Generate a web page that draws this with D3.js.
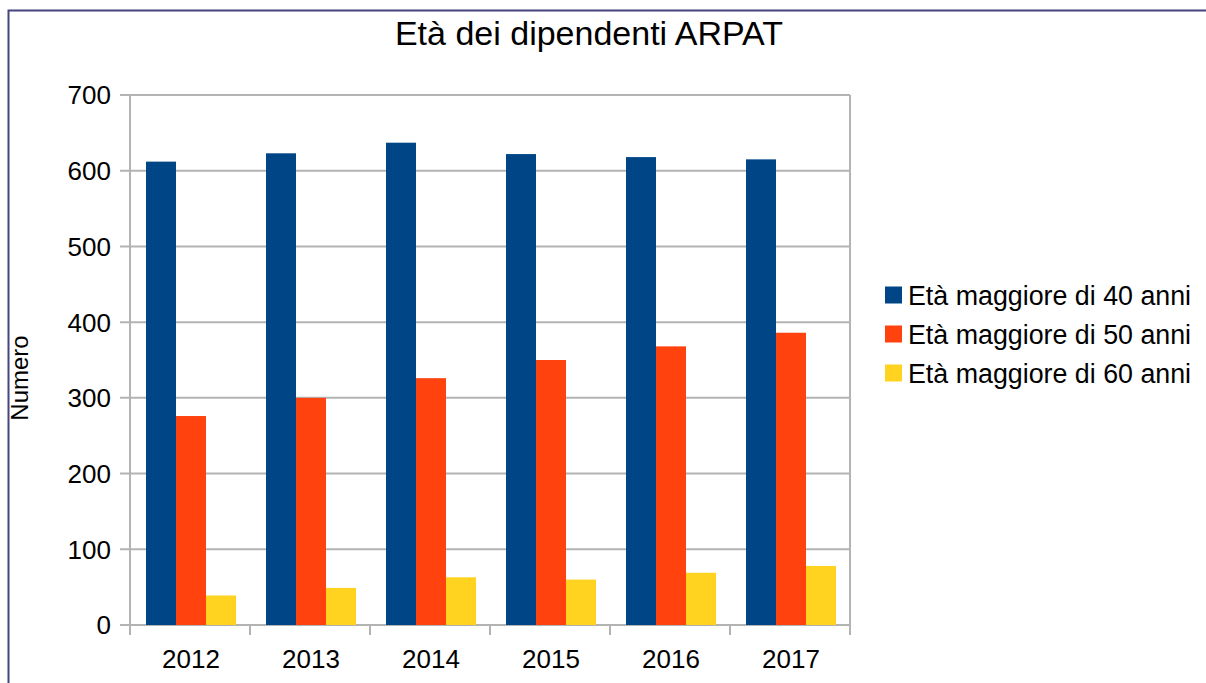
<!DOCTYPE html>
<html>
<head>
<meta charset="utf-8">
<script src="https://cdn.jsdelivr.net/npm/d3@7"></script>
<style>
  body { margin: 0; background: #fff; }
  svg { display: block; font-family: "Liberation Sans", Arial, sans-serif; }
</style>
</head>
<body>
<div id="chartPlaceholder"></div>
<script>
const years = ["2012", "2013", "2014", "2015", "2016", "2017"];
const seriesNames = ["Età maggiore di 40 anni", "Età maggiore di 50 anni", "Età maggiore di 60 anni"];
const over40 = [612, 623, 637, 622, 618, 615];
const over50 = [276, 300, 326, 350, 368, 386];
const over60 = [39, 49, 63, 60, 69, 78];
const yTicks = [0, 100, 200, 300, 400, 500, 600, 700];
const colors = ["#004586", "#ff420e", "#ffd320"];

const seriesValues = [over40, over50, over60];

const W = 1206, H = 683;
const margin = { top: 95, right: 356, bottom: 58, left: 130 };
const width = W - margin.left - margin.right;
const height = H - margin.top - margin.bottom;

const svg = d3.select("#chartPlaceholder")
  .append("svg")
  .attr("width", W)
  .attr("height", H);

// outer frame (only left and top edges are visible)
svg.append("path")
  .attr("d", `M8.5,${H} V10.5 H${W}`)
  .attr("fill", "none")
  .attr("stroke", "#45457f")
  .attr("stroke-width", 2);

// title
svg.append("text")
  .attr("x", 589)
  .attr("y", 45)
  .attr("text-anchor", "middle")
  .style("font-size", "34px")
  .attr("fill", "#000")
  .text("Età dei dipendenti ARPAT");

const g = svg.append("g").attr("transform", `translate(${margin.left}, ${margin.top})`);

const x0 = d3.scaleBand().domain(years).range([0, width]).paddingInner(0.25).paddingOuter(0.125);
const x1 = d3.scaleBand().domain(d3.range(seriesNames.length)).range([0, x0.bandwidth()]);
const y = d3.scaleLinear().domain([0, 700]).range([height, 0]);

// gridlines
g.append("g")
  .selectAll("line")
  .data(yTicks)
  .join("line")
  .attr("x1", -10)
  .attr("x2", width)
  .attr("y1", (d) => y(d))
  .attr("y2", (d) => y(d))
  .attr("stroke", "#b3b3b3")
  .attr("stroke-width", 2);

// y axis labels
g.append("g")
  .selectAll("text")
  .data(yTicks)
  .join("text")
  .attr("x", -19)
  .attr("y", (d) => y(d))
  .attr("dy", "0.36em")
  .attr("text-anchor", "end")
  .style("font-size", "26px")
  .text((d) => d);

// category boundary ticks on x axis
const step = x0.step();
const bounds = d3.range(years.length + 1).map((i) => i * step);
g.append("g")
  .selectAll("line")
  .data(bounds)
  .join("line")
  .attr("x1", (d) => d)
  .attr("x2", (d) => d)
  .attr("y1", (d, i) => (i === 0 || i === years.length ? 0 : height))
  .attr("y2", height + 10)
  .attr("stroke", "#b3b3b3")
  .attr("stroke-width", 2);

// bars
const groups = g.append("g")
  .selectAll("g")
  .data(years)
  .join("g")
  .attr("transform", (d) => `translate(${x0(d) + 1},0)`);

groups.selectAll("rect")
  .data((d, i) => seriesValues.map((s, k) => ({ k, value: s[i] })))
  .join("rect")
  .attr("x", (d) => x1(d.k))
  .attr("width", x1.bandwidth())
  .attr("y", (d) => y(d.value))
  .attr("height", (d) => height - y(d.value))
  .attr("fill", (d) => colors[d.k]);

// x labels
g.append("g")
  .selectAll("text")
  .data(years)
  .join("text")
  .attr("x", (d) => x0(d) + x0.bandwidth() / 2 + 1)
  .attr("y", height + 34)
  .attr("dy", "0.36em")
  .attr("text-anchor", "middle")
  .style("font-size", "26px")
  .text((d) => d);

// y axis title
svg.append("text")
  .attr("transform", "translate(28, 378) rotate(-90)")
  .attr("text-anchor", "middle")
  .style("font-size", "24px")
  .text("Numero");

// legend
const legend = svg.append("g")
  .selectAll("g")
  .data(seriesNames)
  .join("g")
  .attr("transform", (d, i) => `translate(885, ${295 + i * 39})`);

legend.append("rect")
  .attr("x", 0)
  .attr("y", -8.5)
  .attr("width", 17)
  .attr("height", 17)
  .attr("fill", (d, i) => colors[i]);

legend.append("text")
  .attr("x", 23)
  .attr("dy", "0.36em")
  .style("font-size", "26.8px")
  .text((d) => d);
</script>
</body>
</html>
